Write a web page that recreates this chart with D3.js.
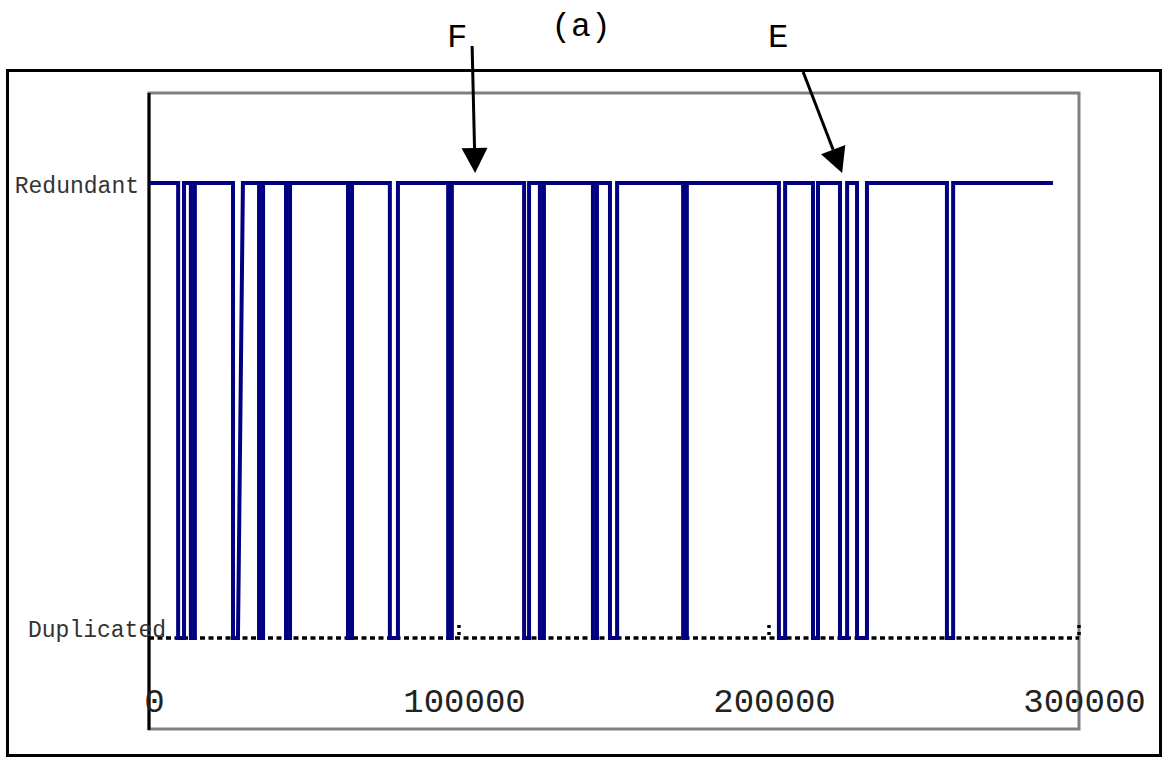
<!DOCTYPE html>
<html>
<head>
<meta charset="utf-8">
<script src="https://cdn.jsdelivr.net/npm/d3@7"></script>
<style>
  body { margin: 0; background: #fff; }
  text { font-family: "Liberation Mono", "DejaVu Sans Mono", monospace; }
</style>
</head>
<body>
<div id="chart"></div>
<script>
// state labels (1 = Redundant, 0 = Duplicated)
var stateLabels = ["Duplicated", "Redundant"];
var xTicks = [0, 100000, 200000, 300000];

// duplicated intervals: time of drop, time at bottom of rise, time at top of rise
var dropT      = [9400, 13500, 27100, 35500, 44200, 64200, 77700, 96500, 121000, 126100,
                  143200, 148700, 172300, 203200, 214200, 222900, 228400, 257400];
var riseLowT   = [11300, 14800, 28700, 36800, 45500, 65500, 80300, 97700, 122600, 127400,
                  144500, 151000, 173500, 205200, 215800, 225200, 231600, 259400];
var riseHighT  = [11300, 14800, 30300, 36800, 45500, 65500, 80300, 97700, 122600, 127400,
                  144500, 151000, 173500, 205200, 215800, 225200, 231600, 259400];
var startT = 0, endT = 291600;

// arrows: label, time pointed at
var annLabels = ["F", "E"];
var annT = [105200, 223600];

var svg = d3.select("#chart").append("svg")
    .attr("width", 1163)
    .attr("height", 758);

var x = d3.scaleLinear().domain([0, 300000]).range([149, 1079]);
var y = d3.scaleLinear().domain([0, 1]).range([638, 183]);

// outer frame
svg.append("rect")
    .attr("x", 7.5).attr("y", 70.5)
    .attr("width", 1153).attr("height", 685)
    .attr("fill", "none")
    .attr("stroke", "#000")
    .attr("stroke-width", 3);

// plot box
svg.append("rect")
    .attr("x", x(0)).attr("y", 93)
    .attr("width", x(300000) - x(0)).attr("height", 729 - 93)
    .attr("fill", "none")
    .attr("stroke", "#808080")
    .attr("stroke-width", 3);

svg.append("line")
    .attr("x1", x(0)).attr("x2", x(0))
    .attr("y1", 93).attr("y2", 730)
    .attr("stroke", "#000")
    .attr("stroke-width", 3);

// dotted baseline
svg.append("line")
    .attr("x1", x(0)).attr("x2", x(300000))
    .attr("y1", y(0)).attr("y2", y(0))
    .attr("stroke", "#000")
    .attr("stroke-width", 3.5)
    .attr("stroke-dasharray", "5,3.5");

svg.selectAll(".tickmark")
    .data(xTicks.filter(function(d) { return d > 0; }))
    .enter().append("line")
    .attr("class", "tickmark")
    .attr("x1", function(d) { return x(d); })
    .attr("x2", function(d) { return x(d); })
    .attr("y1", y(0) - 13).attr("y2", y(0))
    .attr("stroke", "#000")
    .attr("stroke-width", 3.5)
    .attr("stroke-dasharray", "3,4");

// x axis labels
var gx = svg.append("g")
    .attr("transform", "translate(0,712)")
    .call(d3.axisBottom(x).tickValues(xTicks).tickSize(0).tickFormat(d3.format("d")));
gx.select(".domain").remove();
gx.selectAll("text")
    .attr("y", 0).attr("dy", 0).attr("dx", 5)
    .style("font-family", "'Liberation Mono', monospace")
    .style("font-size", "34px")
    .attr("fill", "#222");

// state labels
svg.selectAll(".state")
    .data(stateLabels)
    .enter().append("text")
    .attr("class", "state")
    .attr("x", function(d, i) { return i === 1 ? 139 : 28; })
    .attr("y", function(d, i) { return y(i) + (i === 1 ? 10 : -1); })
    .attr("text-anchor", function(d, i) { return i === 1 ? "end" : "start"; })
    .style("font-size", "23px")
    .attr("fill", "#333")
    .text(function(d) { return d; });

// signal
var pts = [[startT, 1]];
dropT.forEach(function(t, i) {
  pts.push([t, 1], [t, 0], [riseLowT[i], 0], [riseHighT[i], 1]);
});
pts.push([endT, 1]);

svg.append("path")
    .datum(pts)
    .attr("fill", "none")
    .attr("stroke", "#000080")
    .attr("stroke-width", 4)
    .attr("d", d3.line().x(function(d) { return x(d[0]); }).y(function(d) { return y(d[1]); }));

// title
svg.append("text")
    .attr("x", 581).attr("y", 36)
    .attr("text-anchor", "middle")
    .style("font-size", "33px")
    .text("(a)");

// annotation arrows
var starts = [[x(annT[0]) - 3, 46], [x(annT[1]) - 39, 72]];
var labelPos = [[x(annT[0]) - 18, 47], [x(annT[1]) - 64, 47]];
annT.forEach(function(t, i) {
  var tip = [x(t), y(1) - 10];
  var s = starts[i];
  var dx = tip[0] - s[0], dy = tip[1] - s[1];
  var len = Math.sqrt(dx * dx + dy * dy);
  var ux = dx / len, uy = dy / len;
  var headL = 25, headW = 13;
  var bx = tip[0] - ux * headL, by = tip[1] - uy * headL;
  svg.append("line")
      .attr("x1", s[0]).attr("y1", s[1])
      .attr("x2", bx).attr("y2", by)
      .attr("stroke", "#000")
      .attr("stroke-width", 3);
  svg.append("path")
      .attr("d", "M" + tip + "L" + [bx - uy * headW, by + ux * headW] + "L" + [bx + uy * headW, by - ux * headW] + "Z")
      .attr("fill", "#000");
  svg.append("text")
      .attr("x", labelPos[i][0]).attr("y", labelPos[i][1])
      .attr("text-anchor", "middle")
      .style("font-size", "34px")
      .text(annLabels[i]);
});
</script>
</body>
</html>
